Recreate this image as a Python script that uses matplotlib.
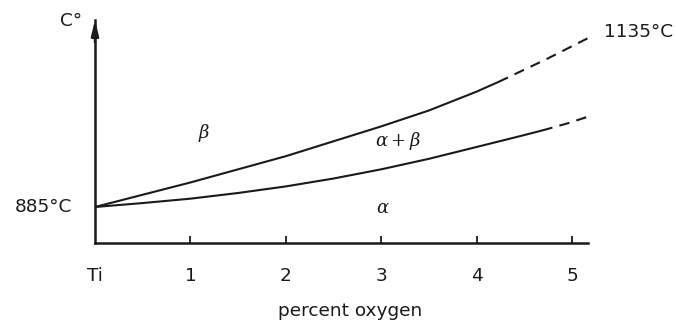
import numpy as np
import matplotlib.pyplot as plt

plt.rcParams['font.family'] = ['DejaVu Sans']
plt.rcParams['mathtext.fontset'] = 'dejavuserif'

# percent oxygen / temperature (°C) along the two phase boundaries
upper_x = [0, 0.5, 1, 1.5, 2, 2.5, 3, 3.5, 4, 4.25]
upper_t = [885, 899, 913, 928, 943, 960, 977, 998.5, 1034, 1054]
upper_x_dash = [4.25, 4.73, 5.17]
upper_t_dash = [1054, 1095, 1135]

lower_x = [0, 0.5, 1, 1.5, 2, 2.5, 3, 3.5, 4, 4.46, 4.71]
lower_t = [885, 889.5, 894.5, 901, 908.5, 917.5, 928, 940, 953.5, 966, 973]
lower_x_dash = [4.71, 4.97, 5.22]
lower_t_dash = [973, 981, 990]

xticks = [0, 1, 2, 3, 4, 5]
xlabels = ['Ti', '1', '2', '3', '4', '5']

# schematic temperature axis: piecewise linear between the key temperatures
knot_t = np.array([885.0, 990.0, 1135.0])
knot_h = np.array([36.0, 128.0, 205.0])
lo_slope = (knot_t[1] - knot_t[0]) / (knot_h[1] - knot_h[0])
hi_slope = (knot_t[2] - knot_t[1]) / (knot_h[2] - knot_h[1])
full_t = np.concatenate([[knot_t[0] - 2000 * lo_slope], knot_t, [knot_t[-1] + 2000 * hi_slope]])
full_h = np.concatenate([[knot_h[0] - 2000], knot_h, [knot_h[-1] + 2000]])


def fwd(t):
    return np.interp(t, full_t, full_h)


def inv(h):
    return np.interp(h, full_h, full_t)


fig = plt.figure(figsize=(6.76, 3.27), dpi=100)
ax = fig.add_axes([95 / 676, 84 / 327, 493 / 676, 223 / 327])
ax.set_yscale('function', functions=(fwd, inv))
ax.set_xlim(0, 493 / 95.4)
ax.set_ylim(inv(0), inv(223))

ink = '#1a1a1a'
lw = 1.5
dash = (1, (5, 3.5))
ax.plot(upper_x, upper_t, color=ink, lw=lw, solid_capstyle='round', solid_joinstyle='round')
ax.plot(upper_x_dash, upper_t_dash, color=ink, lw=lw, linestyle=dash)
ax.plot(lower_x, lower_t, color=ink, lw=lw, solid_capstyle='round', solid_joinstyle='round')
ax.plot(lower_x_dash, lower_t_dash, color=ink, lw=lw, linestyle=dash)

for side in ['top', 'right']:
    ax.spines[side].set_visible(False)
for side in ['left', 'bottom']:
    ax.spines[side].set_color(ink)
    ax.spines[side].set_linewidth(1.8)

# arrow head on the temperature axis
ax.annotate('', xy=(0, 1.0), xytext=(0, 0.9), xycoords='axes fraction',
            arrowprops=dict(arrowstyle='-|>,head_length=0.9,head_width=0.22',
                            color=ink, lw=1.8, shrinkA=0, shrinkB=0))

fs = 13.3
ax.set_yticks([])
ax.set_xticks(xticks)
ax.set_xticklabels(xlabels, fontsize=fs, color=ink)
ax.tick_params(axis='x', direction='in', length=5, width=1.3, color=ink, pad=17)
ax.xaxis.get_major_ticks()[0].tick1line.set_visible(False)

ax.text(0.517, -0.305, 'percent oxygen', transform=ax.transAxes, fontsize=fs,
        color=ink, ha='center', va='center')

ax.annotate('C°', xy=(0, 1), xycoords='axes fraction', xytext=(-17, -0.7),
            textcoords='offset points', ha='center', va='center', fontsize=fs, color=ink)
ax.annotate('885°C', xy=(0, lower_t[0]), xytext=(-16.5, 0), textcoords='offset points',
            ha='right', va='center', fontsize=fs, color=ink)
ax.annotate('1135°C', xy=(upper_x_dash[-1], upper_t_dash[-1]), xytext=(11.5, 4.3),
            textcoords='offset points', ha='left', va='center', fontsize=fs, color=ink)
ax.annotate('990°C', xy=(lower_x_dash[-1], lower_t_dash[-1]), xytext=(15, 9.4),
            textcoords='offset points', ha='left', va='center', fontsize=fs, color=ink)

ax.text((204 - 95) / 95.4, inv(243 - 133), r'$\beta$', fontsize=13, color=ink,
        ha='center', va='center')
ax.text((398 - 95) / 95.4, inv(243 - 141), r'$\alpha+\beta$', fontsize=13, color=ink,
        ha='center', va='center')
ax.text((383 - 95) / 95.4, inv(243 - 208), r'$\alpha$', fontsize=13, color=ink,
        ha='center', va='center')

fig.savefig('out.png', dpi=100)
